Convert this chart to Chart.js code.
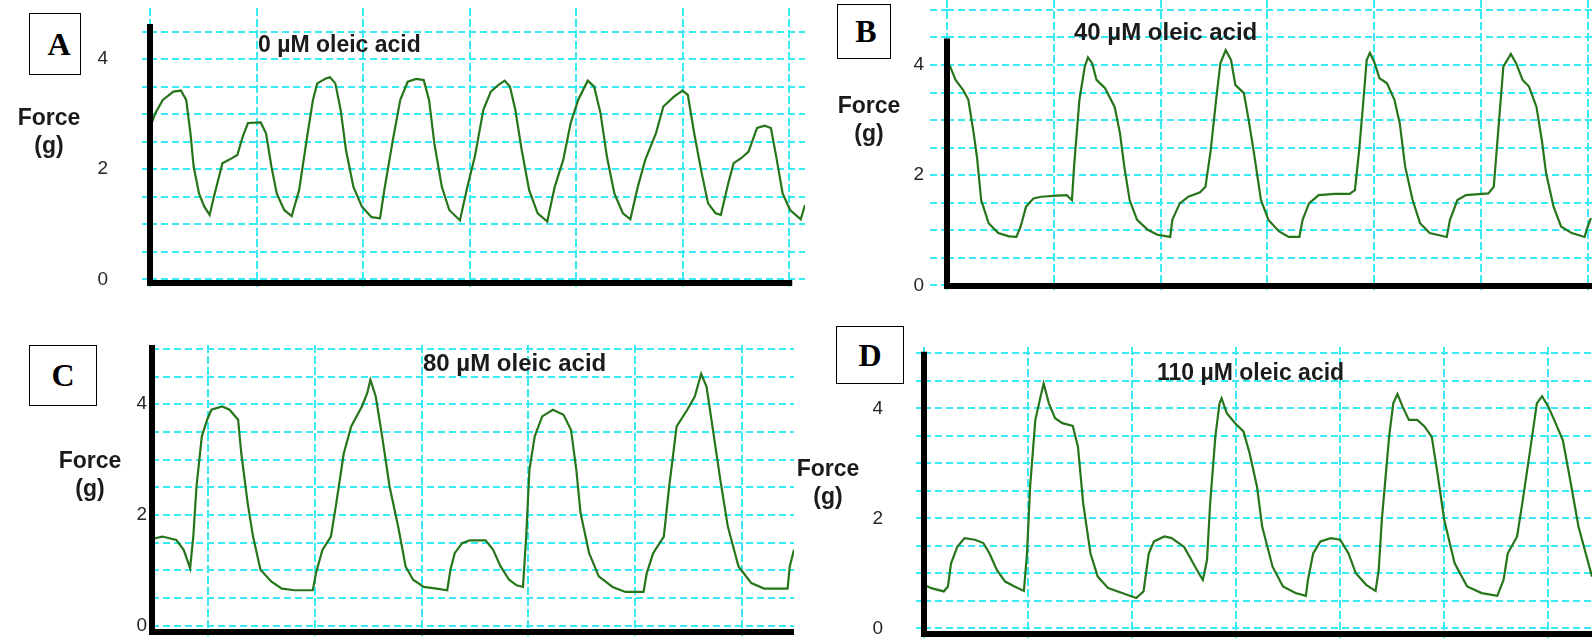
<!DOCTYPE html>
<html>
<head>
<meta charset="utf-8">
<title>Force traces - oleic acid</title>
<script src="https://cdn.jsdelivr.net/npm/chart.js@4.4.1/dist/chart.umd.min.js"></script>
<style>
  html, body { margin: 0; padding: 0; background: #fff; }
  body { width: 1592px; height: 638px; position: relative; overflow: hidden;
         font-family: 'Liberation Sans', Arial, sans-serif; color: #1b1b1b; }
  canvas { position: absolute; }
  .tag { position: absolute; border: 1px solid #000; box-sizing: border-box; background: #fff;
         font: bold 32px 'Liberation Serif', 'Times New Roman', serif; color: #000;
         display: flex; align-items: center; justify-content: center; z-index: 2; }
  .ylab { position: absolute; width: 90px; text-align: center; font-weight: bold;
          font-size: 23px; line-height: 28px; z-index: 2; }
  .title { position: absolute; font-weight: bold; font-size: 23px; line-height: 23px;
           white-space: nowrap; z-index: 2; }
</style>
</head>
<body>

<canvas id="chartA" width="725" height="285" style="left:80px; top:8px;"></canvas>
<canvas id="chartB" width="715" height="296" style="left:877px; top:0px;"></canvas>
<canvas id="chartC" width="712" height="293" style="left:82px; top:345px;"></canvas>
<canvas id="chartD" width="738" height="291" style="left:854px; top:347px;"></canvas>

<div class="tag" style="left:29px; top:13px; width:52px; height:62px; padding-left:8px;">A</div>
<div class="tag" style="left:837px; top:4px; width:54px; height:55px; padding-left:4px;">B</div>
<div class="tag" style="left:29px; top:345px; width:68px; height:61px;">C</div>
<div class="tag" style="left:836px; top:326px; width:68px; height:58px;">D</div>

<div class="ylab" style="left:4px; top:103px;">Force<br>(g)</div>
<div class="ylab" style="left:824px; top:91px;">Force<br>(g)</div>
<div class="ylab" style="left:45px; top:446px;">Force<br>(g)</div>
<div class="ylab" style="left:783px; top:454px;">Force<br>(g)</div>

<div class="title" style="left:258px; top:33px;">0 µM oleic acid</div>
<div class="title" style="left:1074px; top:20px; font-size:24px;">40 µM oleic acid</div>
<div class="title" style="left:423px; top:351px; font-size:24px;">80 µM oleic acid</div>
<div class="title" style="left:1157px; top:361px;">110 µM oleic acid</div>

<script>
// traces: time in grid divisions, force in g

// A - 0 µM
const timeA = [-0.05, 0.00, 0.05, 0.12, 0.22, 0.29, 0.34, 0.38, 0.41, 0.46, 0.51, 0.56, 0.60, 0.68, 0.75,
    0.82, 0.87, 0.92, 1.04, 1.09, 1.14, 1.19, 1.26, 1.33, 1.40, 1.48, 1.53, 1.57, 1.65, 1.69,
    1.74, 1.79, 1.84, 1.91, 1.99, 2.08, 2.16, 2.20, 2.28, 2.35, 2.42, 2.50, 2.57, 2.62, 2.67,
    2.74, 2.81, 2.91, 2.98, 3.05, 3.13, 3.20, 3.27, 3.33, 3.38, 3.43, 3.49, 3.56, 3.64, 3.73,
    3.80, 3.88, 3.95, 4.02, 4.11, 4.17, 4.23, 4.29, 4.36, 4.44, 4.51, 4.58, 4.65, 4.75, 4.82,
    4.92, 5.00, 5.05, 5.11, 5.18, 5.24, 5.31, 5.36, 5.43, 5.48, 5.55, 5.62, 5.70, 5.77, 5.83,
    5.88, 5.94, 6.01, 6.11, 6.15];
const forceA = [2.17, 2.75, 3.02, 3.26, 3.41, 3.43, 3.26, 2.65, 2.05, 1.56, 1.32, 1.17, 1.50, 2.11, 2.18,
    2.26, 2.59, 2.84, 2.85, 2.65, 2.05, 1.56, 1.26, 1.15, 1.62, 2.65, 3.26, 3.56, 3.65, 3.67,
    3.56, 3.08, 2.35, 1.68, 1.32, 1.13, 1.11, 1.62, 2.53, 3.26, 3.59, 3.64, 3.62, 3.26, 2.47,
    1.68, 1.26, 1.07, 1.68, 2.23, 3.08, 3.41, 3.53, 3.61, 3.50, 3.08, 2.35, 1.62, 1.20, 1.05,
    1.68, 2.17, 2.84, 3.26, 3.61, 3.50, 3.02, 2.23, 1.56, 1.20, 1.09, 1.68, 2.17, 2.65, 3.14,
    3.32, 3.43, 3.35, 2.65, 1.93, 1.38, 1.20, 1.17, 1.75, 2.11, 2.20, 2.32, 2.75, 2.79, 2.75,
    2.23, 1.56, 1.26, 1.09, 1.35];

// B - 40 µM
const timeB = [-0.06, -0.04, -0.01, 0.03, 0.08, 0.15, 0.20, 0.25, 0.28, 0.32, 0.39, 0.48, 0.58, 0.65, 0.69,
    0.74, 0.81, 0.88, 1.03, 1.12, 1.17, 1.19, 1.24, 1.29, 1.32, 1.36, 1.40, 1.48, 1.57, 1.62,
    1.66, 1.71, 1.78, 1.88, 1.97, 2.09, 2.11, 2.18, 2.26, 2.37, 2.42, 2.47, 2.52, 2.56, 2.61,
    2.66, 2.70, 2.78, 2.82, 2.87, 2.94, 3.01, 3.11, 3.20, 3.30, 3.33, 3.39, 3.48, 3.63, 3.77,
    3.82, 3.86, 3.90, 3.93, 3.96, 4.00, 4.05, 4.12, 4.19, 4.24, 4.29, 4.36, 4.43, 4.52, 4.68,
    4.71, 4.78, 4.86, 5.07, 5.12, 5.16, 5.21, 5.28, 5.33, 5.39, 5.45, 5.52, 5.57, 5.61, 5.68,
    5.75, 5.85, 5.97, 6.00, 6.03];
const forceB = [3.46, 3.97, 4.09, 3.97, 3.73, 3.55, 3.37, 2.76, 2.34, 1.55, 1.13, 0.95, 0.89, 0.88, 1.07,
    1.43, 1.58, 1.61, 1.63, 1.64, 1.55, 2.16, 3.37, 3.97, 4.14, 4.03, 3.73, 3.58, 3.24, 2.76,
    2.16, 1.55, 1.19, 1.01, 0.92, 0.88, 1.19, 1.49, 1.61, 1.69, 1.79, 2.46, 3.37, 4.03, 4.27,
    4.09, 3.64, 3.49, 3.06, 2.46, 1.55, 1.19, 0.98, 0.88, 0.88, 1.19, 1.49, 1.64, 1.66, 1.66,
    1.73, 2.46, 3.37, 4.09, 4.22, 4.06, 3.76, 3.67, 3.37, 2.94, 2.16, 1.55, 1.13, 0.95, 0.88,
    1.19, 1.55, 1.64, 1.67, 1.79, 2.76, 3.97, 4.20, 4.03, 3.73, 3.61, 3.24, 2.64, 2.04, 1.43,
    1.07, 0.95, 0.88, 1.07, 1.22];

// C - 80 µM
const timeC = [-0.50, -0.43, -0.30, -0.23, -0.17, -0.14, -0.11, -0.06, -0.01, 0.03, 0.13, 0.20, 0.28, 0.31, 0.37,
    0.42, 0.49, 0.59, 0.69, 0.81, 0.98, 1.01, 1.07, 1.15, 1.20, 1.27, 1.34, 1.44, 1.49, 1.52,
    1.57, 1.63, 1.70, 1.78, 1.85, 1.92, 2.02, 2.14, 2.24, 2.27, 2.31, 2.38, 2.45, 2.60, 2.67,
    2.74, 2.82, 2.89, 2.95, 2.98, 3.01, 3.06, 3.13, 3.23, 3.33, 3.40, 3.45, 3.49, 3.57, 3.66,
    3.79, 3.91, 4.08, 4.11, 4.17, 4.27, 4.32, 4.39, 4.49, 4.56, 4.62, 4.67, 4.73, 4.80, 4.87,
    4.97, 5.09, 5.21, 5.43, 5.45, 5.49];
const forceC = [1.58, 1.61, 1.55, 1.37, 1.04, 1.61, 2.51, 3.42, 3.72, 3.90, 3.96, 3.90, 3.72, 3.11, 2.21,
    1.61, 1.01, 0.80, 0.67, 0.64, 0.64, 0.95, 1.37, 1.61, 2.21, 3.11, 3.60, 3.96, 4.20, 4.44,
    4.14, 3.42, 2.51, 1.79, 1.07, 0.83, 0.70, 0.67, 0.64, 1.01, 1.31, 1.49, 1.54, 1.54, 1.37,
    1.07, 0.83, 0.73, 0.70, 1.61, 2.81, 3.42, 3.78, 3.90, 3.81, 3.54, 2.81, 2.03, 1.31, 0.89,
    0.70, 0.61, 0.61, 0.95, 1.31, 1.61, 2.51, 3.60, 3.90, 4.14, 4.55, 4.32, 3.54, 2.63, 1.79,
    1.07, 0.77, 0.67, 0.67, 1.07, 1.37];

// D - 110 µM
const timeD = [-0.05, 0.00, 0.07, 0.19, 0.23, 0.26, 0.32, 0.39, 0.49, 0.57, 0.63, 0.70, 0.78, 0.87, 0.96,
    0.99, 1.02, 1.07, 1.12, 1.15, 1.20, 1.26, 1.33, 1.43, 1.48, 1.53, 1.60, 1.67, 1.77, 1.89,
    2.04, 2.11, 2.16, 2.21, 2.31, 2.38, 2.50, 2.57, 2.65, 2.68, 2.72, 2.75, 2.80, 2.84, 2.86,
    2.91, 2.99, 3.07, 3.13, 3.20, 3.25, 3.35, 3.45, 3.57, 3.67, 3.69, 3.74, 3.81, 3.91, 4.00,
    4.08, 4.15, 4.25, 4.34, 4.37, 4.40, 4.47, 4.51, 4.55, 4.60, 4.66, 4.74, 4.81, 4.88, 4.93,
    5.00, 5.10, 5.22, 5.36, 5.51, 5.57, 5.61, 5.70, 5.75, 5.83, 5.89, 5.94, 6.00, 6.07, 6.14,
    6.21, 6.29, 6.36, 6.42];
const forceD = [0.91, 0.79, 0.73, 0.67, 0.76, 1.18, 1.48, 1.64, 1.61, 1.55, 1.36, 1.06, 0.85, 0.76, 0.68,
    1.36, 2.58, 3.79, 4.21, 4.45, 4.09, 3.82, 3.73, 3.68, 3.30, 2.27, 1.36, 0.94, 0.73, 0.65,
    0.55, 0.67, 1.36, 1.58, 1.67, 1.64, 1.48, 1.24, 0.97, 0.88, 1.24, 2.27, 3.48, 4.09, 4.18,
    3.91, 3.73, 3.58, 3.18, 2.58, 1.85, 1.12, 0.76, 0.64, 0.59, 0.88, 1.36, 1.58, 1.64, 1.61,
    1.36, 1.00, 0.79, 0.68, 1.06, 1.97, 3.48, 4.09, 4.26, 4.03, 3.79, 3.79, 3.67, 3.48, 2.88,
    1.97, 1.18, 0.76, 0.64, 0.59, 0.88, 1.36, 1.67, 2.27, 3.30, 4.09, 4.22, 4.03, 3.73, 3.42,
    2.70, 1.85, 1.36, 0.94];

const TRACE_COLOR = '#26751b';
const GRID_COLOR = '#38eaf2';
const Y_AXIS_W = 70;

// thick black axes like the recorder printout (y axis stops short of the top)
const axisLines = {
    id: 'axisLines',
    afterDatasetsDraw(chart, args, opts) {
        const { ctx, chartArea, scales: { x, y } } = chart;
        const w = opts.width || 6;
        const yTop = y.getPixelForValue(opts.yTop);
        const xEnd = opts.xEnd != null ? x.getPixelForValue(opts.xEnd) : chartArea.right;
        ctx.save();
        ctx.strokeStyle = '#000';
        ctx.lineWidth = w;
        ctx.beginPath();
        ctx.moveTo(chartArea.left, yTop);
        ctx.lineTo(chartArea.left, chartArea.bottom + w / 2);
        ctx.moveTo(chartArea.left - w / 2, chartArea.bottom);
        ctx.lineTo(xEnd, chartArea.bottom);
        ctx.stroke();
        ctx.restore();
    }
};

function makePanel(id, times, forces, cfg) {
    return new Chart(document.getElementById(id), {
        type: 'line',
        data: {
            datasets: [{
                data: times.map((t, i) => ({ x: t, y: forces[i] })),
                borderColor: TRACE_COLOR,
                borderWidth: 2.2,
                pointRadius: 0,
                tension: 0,
                fill: false
            }]
        },
        options: {
            responsive: false,
            animation: false,
            events: [],
            layout: { padding: 0 },
            plugins: {
                legend: { display: false },
                tooltip: { enabled: false },
                axisLines: { yTop: cfg.yTop, xEnd: cfg.xEnd, width: 6 }
            },
            scales: {
                x: {
                    type: 'linear',
                    min: cfg.xMin,
                    max: cfg.xMax,
                    ticks: { display: false, stepSize: 1, includeBounds: false },
                    grid: {
                        color: GRID_COLOR, lineWidth: 2,
                        drawTicks: true, tickLength: cfg.xTick,
                        tickColor: GRID_COLOR, tickBorderDash: [4, 3]
                    },
                    border: { display: false, dash: [8, 3] },
                    afterFit: s => { s.height = cfg.xH; }
                },
                y: {
                    type: 'linear',
                    min: cfg.yMin,
                    max: cfg.yMax,
                    ticks: {
                        stepSize: 0.5,
                        includeBounds: false,
                        autoSkip: false,
                        padding: cfg.yPad,
                        color: '#262626',
                        font: { family: "'Liberation Sans', Arial, sans-serif", size: 19 },
                        callback: v => (v % 2 === 0 ? v : '')
                    },
                    grid: {
                        color: GRID_COLOR, lineWidth: 2,
                        drawTicks: cfg.yTick > 0, tickLength: cfg.yTick,
                        tickColor: GRID_COLOR, tickBorderDash: [7, 4]
                    },
                    border: { display: false, dash: [7, 4] },
                    afterFit: s => { s.width = Y_AXIS_W; s.paddingTop = 0; s.paddingBottom = 0; }
                }
            }
        },
        plugins: [axisLines]
    });
}

makePanel('chartA', timeA, forceA, {
    xMin: 0, xMax: 6.15, yMin: -0.067, yMax: 4.93,
    yTop: 4.64, xEnd: 6.03, xTick: 7, xH: 10, yTick: 8, yPad: 34
});
makePanel('chartB', timeB, forceB, {
    xMin: 0, xMax: 6.04, yMin: -0.01, yMax: 5.18,
    yTop: 4.48, xEnd: null, xTick: 5, xH: 10, yTick: 17, yPad: 6
});
makePanel('chartC', timeC, forceC, {
    xMin: -0.527, xMax: 5.49, yMin: -0.114, yMax: 5.07,
    yTop: 5.07, xEnd: null, xTick: 4, xH: 6, yTick: 0, yPad: 5
});
makePanel('chartD', timeD, forceD, {
    xMin: 0, xMax: 6.42, yMin: -0.104, yMax: 5.115,
    yTop: 5.03, xEnd: null, xTick: 4, xH: 4, yTick: 8, yPad: 33
});
</script>
</body>
</html>
